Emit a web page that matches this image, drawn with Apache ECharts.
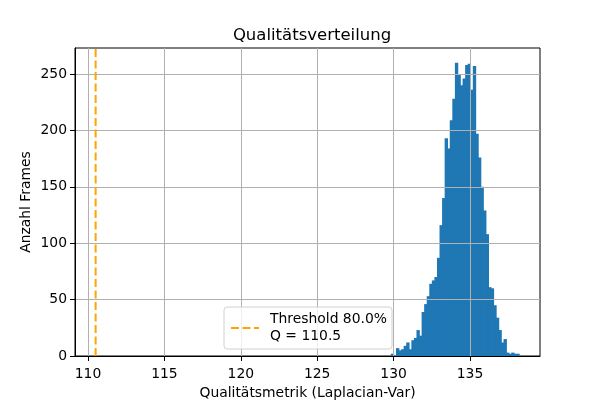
<!DOCTYPE html>
<html lang="de">
<head>
<meta charset="UTF-8">
<title>Qualitätsverteilung</title>
<style>
    * { margin: 0; padding: 0; }
    #chart { width: 600px; height: 400px; }
</style>
</head>
<body>
<div id="chart"></div>
<script src="https://cdn.jsdelivr.net/npm/echarts@6/dist/echarts.min.js"></script>
<script>
    // histogram: 50 bins between the lowest and highest measured value
    var binLo = 129.82, binHi = 138.2;
    var counts = [
        2, 0, 7, 5, 6, 9, 12, 6, 14, 16,
        23, 18, 39, 46, 53, 64, 67, 70, 87, 116,
        140, 193, 184, 209, 228, 260, 250, 240, 246, 258,
        259, 236, 257, 197, 176, 150, 129, 108, 61, 60,
        45, 34, 23, 12, 15, 3, 2, 3, 2, 2
    ];
    var threshold = 110.5;
    var thresholdName = 'Threshold 80.0%\nQ = 110.5';
    var xTicks = [110, 115, 120, 125, 130, 135];
    var yTicks = [0, 50, 100, 150, 200, 250];
    var xRange = [109.15, 139.58];
    var yMax = 273;

    var binW = (binHi - binLo) / counts.length;
    var bins = counts.map(function (c, i) {
        return [binLo + i * binW, binLo + (i + 1) * binW, c];
    });

    var font = 'DejaVu Sans';
    var chart = echarts.init(document.getElementById('chart'));

    chart.setOption({
        animation: false,
        textStyle: { fontFamily: font },
        title: {
            text: 'Qualitätsverteilung',
            left: 307,
            top: 22,
            textAlign: 'center',
            textStyle: { fontFamily: font, fontSize: 16.5, fontWeight: 'normal', color: '#000' }
        },
        legend: {
            data: [thresholdName],
            left: 224,
            top: 307,
            z: 6,
            padding: [4, 5, 4, 6],
            itemWidth: 28,
            itemHeight: 14,
            itemGap: 8,
            itemStyle: { opacity: 0 },
            borderColor: '#d0d0d0',
            borderWidth: 1,
            borderRadius: 3,
            backgroundColor: 'rgba(255,255,255,0.8)',
            textStyle: { fontFamily: font, fontSize: 13.9, lineHeight: 17, color: '#000', padding: [0, 0, 0, 6] }
        },
        grid: {
            left: 75, right: 60, top: 48, bottom: 44,
            containLabel: false,
            outerBoundsMode: 'none',
            show: true,
            borderColor: '#000',
            borderWidth: 1,
            backgroundColor: 'transparent'
        },
        xAxis: {
            type: 'value',
            min: xRange[0],
            max: xRange[1],
            z: 3,
            name: 'Qualitätsmetrik (Laplacian-Var)',
            nameLocation: 'middle',
            nameGap: 30,
            nameTextStyle: { fontFamily: font, fontSize: 13.9, color: '#000' },
            axisLine: { lineStyle: { color: '#000', width: 1 } },
            axisTick: { length: 5, lineStyle: { color: '#000' }, customValues: xTicks },
            axisLabel: { color: '#000', fontSize: 13.9, margin: 11, customValues: xTicks },
            splitLine: { show: true, lineStyle: { color: '#b0b0b0', width: 1 } }
        },
        yAxis: {
            type: 'value',
            min: 0,
            max: yMax,
            z: 3,
            name: 'Anzahl Frames',
            nameLocation: 'middle',
            nameGap: 42,
            nameMoveOverlap: false,
            nameTextStyle: { fontFamily: font, fontSize: 13.9, color: '#000' },
            axisLine: { show: true, lineStyle: { color: '#000', width: 1 } },
            axisTick: { show: true, length: 5, lineStyle: { color: '#000' }, customValues: yTicks },
            axisLabel: { color: '#000', fontSize: 13.9, margin: 8, customValues: yTicks },
            splitLine: { show: true, lineStyle: { color: '#b0b0b0', width: 1 } }
        },
        series: [
            {
                name: 'Häufigkeit',
                type: 'custom',
                z: 2,
                data: bins,
                encode: { x: [0, 1], y: 2 },
                renderItem: function (params, api) {
                    var p0 = api.coord([api.value(0), api.value(2)]);
                    var p1 = api.coord([api.value(1), 0]);
                    // widen a little so neighbouring bins overlap without seams
                    return {
                        type: 'rect',
                        shape: { x: p0[0], y: p0[1], width: p1[0] - p0[0] + 0.8, height: p1[1] - p0[1] },
                        style: { fill: '#1f77b4' }
                    };
                }
            },
            {
                name: thresholdName,
                type: 'line',
                z: 4,
                symbol: 'none',
                data: [[threshold, 0], [threshold, yMax]],
                color: '#ffa500',
                lineStyle: { color: '#ffa500', width: 2, type: [8, 3.5] }
            }
        ]
    });
</script>
</body>
</html>
